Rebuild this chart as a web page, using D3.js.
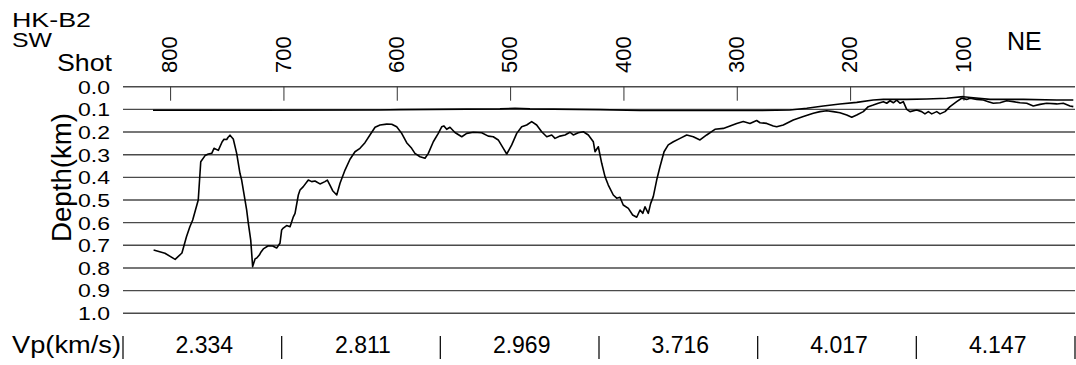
<!DOCTYPE html>
<html>
<head>
<meta charset="utf-8">
<script src="https://cdn.jsdelivr.net/npm/d3@7"></script>
<style>
  html, body { margin: 0; padding: 0; background: #fff; }
  svg { display: block; font-family: "Liberation Sans", Arial, Helvetica, sans-serif; }
</style>
</head>
<body>
<svg id="chart" width="1076" height="365"></svg>
<script>
// Line name and profile ends
const lineName = "HK-B2";
const endLabels = ["SW", "NE"];

// Axis ticks
const shotTicks = [800, 700, 600, 500, 400, 300, 200, 100];
const depthTicks = [0.0, 0.1, 0.2, 0.3, 0.4, 0.5, 0.6, 0.7, 0.8, 0.9, 1.0];

// Interval velocities, one per equal-width segment along the profile
const vpLabels = ["2.334", "2.811", "2.969", "3.716", "4.017", "4.147"];

// Shallow horizon: [shot, depth km]
const seafloor = [
  [815.5,0.104],[729.9,0.104],[615.2,0.103],[597.6,0.101],[509.4,0.098],[496.1,0.095],
  [482.9,0.098],[421.1,0.101],[385.8,0.105],[332.9,0.105],[279.9,0.105],[253.5,0.103],
  [238.7,0.095],[224.1,0.085],[209.4,0.076],[194.6,0.069],[180.0,0.059],[171.1,0.056],
  [150.5,0.056],[132.9,0.054],[115.2,0.051],[100.6,0.044],[91.7,0.049],[77.0,0.056],
  [47.6,0.056],[18.1,0.059],[3.5,0.059]
];

// Deep horizon: [shot, depth km]
const basement = [
  [815,0.721],[805,0.735],[796,0.762],[790,0.734],[786,0.662],[783,0.618],[780.5,0.588],
  [775.6,0.500],[773.4,0.331],[769.6,0.304],[766.7,0.297],[763.7,0.294],[761.7,0.272],
  [757.9,0.281],[754.6,0.244],[752.9,0.232],[750.5,0.233],[749.4,0.224],[747.6,0.214],
  [744.7,0.231],[741.7,0.294],[738.8,0.382],[737.3,0.412],[732.9,0.544],[731.4,0.603],
  [729.3,0.677],[727.6,0.794],[725.5,0.760],[724.0,0.756],[721.7,0.743],[720.2,0.729],
  [718.2,0.716],[713.8,0.702],[709.9,0.703],[706.4,0.712],[703.5,0.691],[702.0,0.632],
  [700.6,0.624],[697.6,0.613],[694.6,0.618],[691.7,0.574],[690.2,0.559],[687.3,0.478],
  [685.8,0.456],[682.9,0.441],[678.5,0.412],[675.5,0.419],[672.6,0.416],[668.2,0.429],
  [663.8,0.419],[661.7,0.412],[659.4,0.434],[657.0,0.459],[653.4,0.478],[650.5,0.426],
  [646.1,0.368],[641.7,0.320],[637.3,0.287],[632.9,0.272],[628.5,0.247],[624.1,0.213],
  [619.6,0.179],[615.2,0.169],[609.3,0.165],[604.9,0.166],[600.5,0.177],[596.1,0.206],
  [591.7,0.247],[587.3,0.272],[584.4,0.294],[579.9,0.309],[575.5,0.316],[572.6,0.294],
  [568.2,0.243],[563.8,0.206],[560.8,0.177],[558.8,0.173],[556.4,0.188],[553.5,0.179],
  [549.1,0.202],[543.1,0.221],[538.7,0.206],[532.9,0.201],[525.5,0.203],[519.7,0.218],
  [515.3,0.221],[510.9,0.235],[506.4,0.272],[503.4,0.297],[499.0,0.257],[494.6,0.206],
  [490.2,0.177],[485.8,0.169],[481.4,0.154],[477.0,0.169],[472.6,0.199],[468.1,0.221],
  [463.7,0.213],[460.8,0.228],[456.4,0.218],[452.0,0.213],[447.6,0.201],[444.7,0.213],
  [440.3,0.203],[435.8,0.199],[431.4,0.213],[427.0,0.243],[425.5,0.287],[422.6,0.265],
  [419.6,0.338],[416.7,0.397],[413.8,0.434],[409.4,0.478],[406.4,0.492],[403.5,0.488],
  [400.6,0.522],[396.1,0.537],[392.3,0.566],[388.7,0.576],[385.8,0.544],[383.4,0.559],
  [381.4,0.530],[378.5,0.559],[376.4,0.515],[374.1,0.485],[371.1,0.412],[368.2,0.353],
  [364.6,0.287],[360.9,0.257],[356.4,0.243],[350.5,0.228],[344.6,0.213],[338.8,0.221],
  [332.9,0.235],[327.0,0.213],[319.7,0.188],[312.3,0.184],[306.4,0.173],[300.5,0.162],
  [294.7,0.154],[288.8,0.162],[282.9,0.149],[279.9,0.159],[274.0,0.162],[268.2,0.173],
  [265.2,0.177],[259.4,0.169],[250.6,0.147],[241.7,0.132],[232.9,0.117],[227.0,0.110],
  [221.1,0.106],[215.3,0.110],[209.4,0.115],[203.4,0.125],[199.0,0.135],[194.6,0.125],
  [188.8,0.110],[184.4,0.088],[180.0,0.081],[175.6,0.073],[171.1,0.066],[168.1,0.073],
  [165.2,0.062],[162.3,0.071],[159.3,0.059],[156.4,0.073],[153.5,0.066],[150.5,0.100],
  [147.6,0.110],[141.7,0.103],[137.3,0.110],[134.4,0.120],[131.4,0.110],[128.4,0.120],
  [124.0,0.110],[121.1,0.120],[116.7,0.110],[112.3,0.088],[106.4,0.066],[102.0,0.051],
  [97.6,0.056],[94.7,0.051],[88.7,0.056],[82.9,0.059],[78.5,0.066],[74.1,0.073],
  [68.2,0.071],[62.3,0.062],[56.4,0.066],[50.5,0.071],[44.6,0.073],[38.8,0.085],
  [32.9,0.078],[27.0,0.073],[18.1,0.076],[12.3,0.073],[6.4,0.085],[3.5,0.088]
];

const svg = d3.select("#chart");

// Shot numbers decrease from SW (left) to NE (right)
const x = d3.scaleLinear().domain([842, 2]).range([123, 1075]);
const y = d3.scaleLinear().domain([0, 1]).range([86.7, 313.3]);
const [x0, x1] = x.range();

// Horizontal depth grid
svg.append("g")
  .selectAll("line")
  .data(depthTicks)
  .join("line")
  .attr("x1", x0).attr("x2", x1)
  .attr("y1", d => y(d)).attr("y2", d => y(d))
  .attr("stroke", "#4a4a4a")
  .attr("stroke-width", 1.4);

// Shot tick marks hanging from the surface line
svg.append("g")
  .selectAll("line")
  .data(shotTicks)
  .join("line")
  .attr("x1", d => x(d)).attr("x2", d => x(d))
  .attr("y1", y(0)).attr("y2", y(0) + 14)
  .attr("stroke", "#333")
  .attr("stroke-width", 1);

// Rotated shot labels
svg.append("g")
  .selectAll("text")
  .data(shotTicks)
  .join("text")
  .attr("transform", d => `translate(${x(d) - 1},73) rotate(-90)`)
  .attr("dy", "0.35em")
  .attr("font-size", 22)
  .attr("fill", "#000")
  .text(d => d);

// Depth labels
svg.append("g")
  .selectAll("text")
  .data(depthTicks)
  .join("text")
  .attr("x", 78)
  .attr("y", d => y(d))
  .attr("dy", "0.36em")
  .attr("font-size", 19)
  .attr("textLength", 32)
  .attr("lengthAdjust", "spacingAndGlyphs")
  .attr("fill", "#000")
  .text(d => d.toFixed(1));

// Axis titles and header
svg.append("text")
  .attr("transform", "translate(71,177.5) rotate(-90)")
  .attr("text-anchor", "middle")
  .attr("font-size", 27)
  .attr("textLength", 129)
  .attr("lengthAdjust", "spacingAndGlyphs")
  .text("Depth(km)");

svg.append("text").attr("x", 12).attr("y", 27).attr("font-size", 21)
  .attr("textLength", 79).attr("lengthAdjust", "spacingAndGlyphs").text(lineName);
svg.append("text").attr("x", 12).attr("y", 47).attr("font-size", 21)
  .attr("textLength", 40).attr("lengthAdjust", "spacingAndGlyphs").text(endLabels[0]);
svg.append("text").attr("x", 57).attr("y", 71).attr("font-size", 24)
  .attr("textLength", 55).attr("lengthAdjust", "spacingAndGlyphs").text("Shot");
svg.append("text").attr("x", 1007).attr("y", 50).attr("font-size", 25)
  .text(endLabels[1]);

// Horizons
const line = d3.line().x(d => x(d[0])).y(d => y(d[1]));

svg.append("path")
  .datum(seafloor)
  .attr("d", line)
  .attr("fill", "none")
  .attr("stroke", "#000")
  .attr("stroke-width", 1.6)
  .attr("stroke-linejoin", "round");

svg.append("path")
  .datum(basement)
  .attr("d", line)
  .attr("fill", "none")
  .attr("stroke", "#000")
  .attr("stroke-width", 1.6)
  .attr("stroke-linejoin", "round");

// Velocity row beneath the section
const band = d3.scaleBand().domain(vpLabels).range([x0, x1]);

svg.append("text").attr("x", 12).attr("y", 352.7).attr("font-size", 23)
  .attr("textLength", 109).attr("lengthAdjust", "spacingAndGlyphs").text("Vp(km/s)");

svg.append("g")
  .selectAll("line")
  .data([x0, ...vpLabels.map(v => band(v) + band.bandwidth())])
  .join("line")
  .attr("x1", d => d).attr("x2", d => d)
  .attr("y1", 336).attr("y2", 359)
  .attr("stroke", "#111")
  .attr("stroke-width", 1.3);

svg.append("g")
  .selectAll("text")
  .data(vpLabels)
  .join("text")
  .attr("x", d => band(d) + band.bandwidth() / 2 + 2)
  .attr("y", 352.7)
  .attr("text-anchor", "middle")
  .attr("font-size", 23)
  .text(d => d);
</script>
</body>
</html>
